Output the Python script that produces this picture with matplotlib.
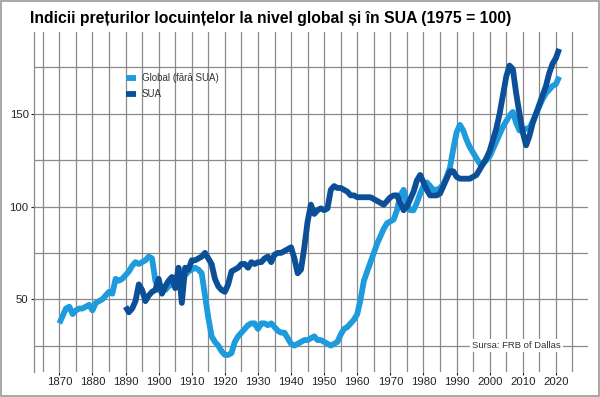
import matplotlib
matplotlib.use('Agg')
import matplotlib.pyplot as plt
import numpy as np

plt.rcParams['font.family'] = ['Liberation Sans', 'DejaVu Sans']

# Global (fara SUA), 1870-2021
global_years = list(range(1870, 2022))
global_vals = [
    37, 41, 45, 46, 42, 44, 45, 45, 46, 47,      # 1870s
    44, 48, 49, 50, 52, 54, 53, 61, 60, 61,      # 1880s
    63, 65, 68, 70, 69, 70, 71, 73, 72, 60,      # 1890s
    55, 56, 55, 57, 58, 60, 62, 64, 63, 65,      # 1900s
    66, 67, 66, 64, 52, 40, 30, 27, 25, 22,      # 1910s
    20, 20, 21, 27, 30, 32, 34, 36, 37, 37,      # 1920s
    34, 37, 37, 36, 37, 35, 33, 32, 32, 29,      # 1930s
    26, 25, 26, 27, 28, 28, 29, 30, 28, 28,      # 1940s
    27, 26, 25, 26, 27, 31, 34, 35, 37, 39,      # 1950s
    42, 50, 60, 65, 70, 75, 80, 84, 88, 91,      # 1960s
    92, 93, 98, 106, 109, 101, 98, 98, 102, 107, # 1970s
    111, 113, 111, 109, 109, 110, 112, 116, 121, 131,  # 1980s
    140, 144, 141, 136, 132, 129, 126, 123, 123, 125,  # 1990s
    127, 131, 135, 139, 143, 146, 149, 151, 145, 141,  # 2000s
    141, 142, 142, 146, 150, 154, 158, 161, 163, 165,  # 2010s
    166, 170,
]

# SUA, 1890-2021
sua_years = list(range(1890, 2022))
sua_vals = [
    46, 43, 45, 49, 58, 55, 49, 52, 54, 55,      # 1890s
    61, 53, 57, 60, 62, 56, 67, 48, 67, 66,      # 1900s
    71, 71, 72, 73, 75, 72, 69, 61, 57, 55,      # 1910s
    54, 58, 65, 66, 67, 69, 69, 67, 70, 69,      # 1920s
    70, 70, 72, 73, 70, 74, 75, 75, 76, 77,      # 1930s
    78, 72, 64, 66, 78, 92, 101, 96, 98, 99,     # 1940s
    98, 99, 109, 111, 110, 110, 109, 108, 106, 106,  # 1950s
    105, 105, 105, 105, 105, 104, 103, 102, 101, 103,  # 1960s
    105, 106, 106, 102, 98, 100, 104, 108, 114, 117,   # 1970s
    113, 109, 106, 106, 106, 107, 111, 115, 119, 119,  # 1980s
    116, 115, 115, 115, 115, 116, 117, 120, 123, 126,  # 1990s
    130, 136, 142, 150, 160, 170, 176, 174, 161, 150,  # 2000s
    140, 133, 138, 145, 150, 155, 160, 165, 172, 177,  # 2010s
    180, 185,
]

light_blue = '#1e9bdc'
dark_blue = '#0b4f98'

fig = plt.figure(figsize=(6.0, 3.97), dpi=100)
ax = fig.add_axes([0.057, 0.064, 0.923, 0.855])

ax.plot(global_years, global_vals, color=light_blue, lw=4.2,
        solid_capstyle='butt', label='Global (fără SUA)', zorder=3)
ax.plot(sua_years, sua_vals, color=dark_blue, lw=4.2,
        solid_capstyle='butt', label='SUA', zorder=4)

ax.set_xlim(1862.4, 2029.7)
ax.set_ylim(11, 194)

ax.set_xticks(np.arange(1870, 2021, 10))
ax.set_xticks(np.arange(1865, 2026, 5), minor=True)
ax.set_yticks([50, 100, 150])
ax.set_yticks(np.arange(25, 176, 25), minor=True)
ax.tick_params(axis='both', which='major', length=2, width=0.8,
               labelsize=8.2, colors='#222222', pad=2)
ax.tick_params(axis='both', which='minor', length=0)
ax.grid(True, which='both', color='#8a8a8a', lw=0.9, zorder=0)
ax.set_axisbelow(True)

for side in ['right', 'bottom', 'top']:
    ax.spines[side].set_visible(False)
ax.spines['left'].set_color('#8a8a8a')
ax.spines['left'].set_linewidth(0.9)

fig.text(0.05, 0.953, 'Indicii prețurilor locuințelor la nivel global și în SUA (1975 = 100)',
         fontsize=11.3, fontweight='bold', va='center', ha='left')

ax.legend(loc='upper left', bbox_to_anchor=(0.15, 0.905), frameon=False,
          fontsize=7, handlelength=1.0, handletextpad=0.6, labelspacing=0.6,
          labelcolor='#333333')

ax.text(2008, 25, 'Sursa: FRB of Dallas', fontsize=6.8, color='#333333',
        ha='center', va='center', zorder=5,
        bbox=dict(facecolor='white', edgecolor='none', pad=1.5))

# outer border of the picture
fig.patches.append(plt.Rectangle((0.002, 0.003), 0.996, 0.994, transform=fig.transFigure,
                                 fill=False, edgecolor='#9a9a9a', lw=1.2))

fig.savefig('out.png', dpi=100)
plt.close(fig)
